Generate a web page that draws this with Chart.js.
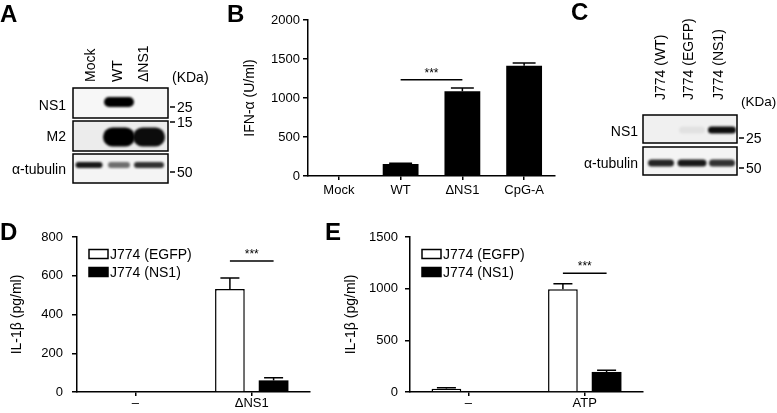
<!DOCTYPE html>
<html>
<head>
<meta charset="utf-8">
<script src="https://cdn.jsdelivr.net/npm/chart.js@4/dist/chart.umd.min.js"></script>
<style>
body { margin: 0; background: #fff; }
#wrap { position: relative; width: 777px; height: 413px; overflow: hidden; }
#wrap canvas { position: absolute; }
</style>
</head>
<body>
<div id="wrap">
  <canvas id="blots" width="777" height="413" style="left:0;top:0"></canvas>
  <canvas id="chartB" width="330" height="200" style="left:240px;top:0"></canvas>
  <canvas id="chartD" width="330" height="223" style="left:0;top:190px"></canvas>
  <canvas id="chartE" width="330" height="223" style="left:330px;top:190px"></canvas>
</div>
<script>
var FONT = "'Liberation Sans', Arial, sans-serif";

// panel B - IFN-alpha
var ifnLabels = ['Mock', 'WT', 'ΔNS1', 'CpG-A'];
var ifnMean = [0, 155, 1085, 1415];
var ifnErr = [0, 7, 43, 35];
var ifnTicks = [0, 500, 1000, 1500, 2000];

// panel D - IL-1b after dNS1 infection
var dLabels = ['–', 'ΔNS1'];
var dEgfp = [0, 531];
var dEgfpErr = [0, 57];
var dNs1 = [0, 60];
var dNs1Err = [0, 14];
var dTicks = [0, 200, 400, 600, 800];

// panel E - IL-1b after ATP
var eLabels = ['–', 'ATP'];
var eEgfp = [32, 994];
var eEgfpErr = [10, 54];
var eNs1 = [2, 194];
var eNs1Err = [0, 16];
var eTicks = [0, 500, 1000, 1500];

var seriesNames = ['J774 (EGFP)', 'J774 (NS1)'];

// western blots: band intensity per lane (0..1)
var aLanes = ['Mock', 'WT', 'ΔNS1'];
var aRows = ['NS1', 'M2', 'α-tubulin'];
var aBands = [[0, 1, 0], [0, 1, 0.95], [0.9, 0.55, 0.8]];
var cLanes = ['J774 (WT)', 'J774 (EGFP)', 'J774 (NS1)'];
var cRows = ['NS1', 'α-tubulin'];
var cBands = [[0, 0.06, 0.95], [0.85, 0.9, 0.8]];

// ---------- blots ----------
function band(ctx, cx, cy, w, h, a) {
    if (!a) return;
    ctx.save();
    ctx.filter = 'blur(1.3px)';
    ctx.fillStyle = 'rgba(0,0,0,' + a + ')';
    ctx.beginPath();
    ctx.roundRect(cx - w / 2, cy - h / 2, w, h, h / 2);
    ctx.fill();
    ctx.restore();
}

function blotBox(ctx, x, y, w, h, bg, lanesX, bandY, bandW, bandH, levels) {
    ctx.save();
    ctx.fillStyle = bg;
    ctx.fillRect(x, y, w, h);
    ctx.beginPath();
    ctx.rect(x, y, w, h);
    ctx.clip();
    for (var i = 0; i < lanesX.length; i++) {
        band(ctx, lanesX[i], bandY, bandW[i], bandH, levels[i]);
    }
    ctx.restore();
    ctx.strokeStyle = '#000';
    ctx.lineWidth = 1.5;
    ctx.strokeRect(x, y, w, h);
}

function marker(ctx, x, y, txt) {
    ctx.beginPath();
    ctx.moveTo(x + 2, y);
    ctx.lineTo(x + 7, y);
    ctx.stroke();
    ctx.textAlign = 'left';
    ctx.textBaseline = 'middle';
    ctx.fillText(txt, x + 9, y + 1);
}

function laneLabels(ctx, xs, bottom, labels) {
    for (var i = 0; i < xs.length; i++) {
        ctx.save();
        ctx.translate(xs[i], bottom);
        ctx.rotate(-Math.PI / 2);
        ctx.textAlign = 'left';
        ctx.textBaseline = 'middle';
        ctx.fillText(labels[i], 0, 0);
        ctx.restore();
    }
}

function rowLabel(ctx, x, y, txt) {
    ctx.textAlign = 'right';
    ctx.textBaseline = 'middle';
    ctx.fillText(txt, x, y);
}

function drawBlots() {
    var ctx = document.getElementById('blots').getContext('2d');
    ctx.fillStyle = '#000';
    ctx.strokeStyle = '#000';

    // panel letters
    ctx.font = 'bold 24px ' + FONT;
    ctx.textAlign = 'left';
    ctx.textBaseline = 'alphabetic';
    ctx.fillText('A', 0, 22);
    ctx.fillText('B', 227, 22);
    ctx.fillText('C', 571, 20);
    ctx.fillText('D', 0, 240);
    ctx.fillText('E', 325, 240);

    ctx.font = '14px ' + FONT;

    // panel A
    var ax = [89, 119, 149];
    laneLabels(ctx, [91, 118, 144], 82, aLanes);
    blotBox(ctx, 73, 88, 95, 30, '#f7f7f7', ax, 102, [24, 30, 30], 10, aBands[0]);
    blotBox(ctx, 73, 121, 95, 30, '#ececec', ax, 137, [32, 32, 32], 19, aBands[1]);
    blotBox(ctx, 73, 154, 95, 29, '#f4f4f4', ax, 165, [27, 22, 30], 6, aBands[2]);
    ctx.fillStyle = '#000';
    ctx.lineWidth = 1.5;
    rowLabel(ctx, 66, 106, aRows[0]);
    rowLabel(ctx, 66, 137, aRows[1]);
    rowLabel(ctx, 66, 170, aRows[2]);
    marker(ctx, 168, 107, '25');
    marker(ctx, 168, 122, '15');
    marker(ctx, 168, 172, '50');

    // panel C
    var cx = [661, 692, 722];
    laneLabels(ctx, [661, 689, 719], 100, cLanes);
    blotBox(ctx, 643, 115, 94, 28, '#f0f0f0', cx, 130, [26, 26, 28], 7, cBands[0]);
    blotBox(ctx, 643, 147, 94, 28, '#f4f4f4', cx, 163, [26, 29, 26], 7, cBands[1]);
    ctx.fillStyle = '#000';
    ctx.lineWidth = 1.5;
    rowLabel(ctx, 638, 132, cRows[0]);
    rowLabel(ctx, 638, 164, cRows[1]);
    marker(ctx, 737, 138, '25');
    marker(ctx, 737, 168, '50');

    ctx.textAlign = 'left';
    ctx.textBaseline = 'middle';
    ctx.fillText('(KDa)', 172, 78);
    ctx.font = '13.5px ' + FONT;
    ctx.fillText('(KDa)', 741, 102);
}

// ---------- chart plugins ----------
var errorBars = {
    id: 'errorBars',
    afterDatasetsDraw: function(chart) {
        var ctx = chart.ctx, y = chart.scales.y;
        chart.data.datasets.forEach(function(ds, i) {
            if (!ds.errors) return;
            chart.getDatasetMeta(i).data.forEach(function(bar, j) {
                var err = ds.errors[j];
                if (!err) return;
                var top = y.getPixelForValue(ds.data[j] + err);
                var half = bar.width * 0.32;
                ctx.save();
                ctx.strokeStyle = '#000';
                ctx.lineWidth = 1.5;
                ctx.beginPath();
                ctx.moveTo(bar.x, bar.y);
                ctx.lineTo(bar.x, top);
                ctx.moveTo(bar.x - half, top);
                ctx.lineTo(bar.x + half, top);
                ctx.stroke();
                ctx.restore();
            });
        });
    }
};

var sigLine = {
    id: 'sigLine',
    afterDatasetsDraw: function(chart, args, opts) {
        if (!opts || !opts.from) return;
        var ctx = chart.ctx;
        var a = chart.getDatasetMeta(opts.from[0]).data[opts.from[1]];
        var b = chart.getDatasetMeta(opts.to[0]).data[opts.to[1]];
        var yy = chart.scales.y.getPixelForValue(opts.value);
        ctx.save();
        ctx.strokeStyle = '#000';
        ctx.lineWidth = 1.5;
        ctx.beginPath();
        ctx.moveTo(a.x, yy);
        ctx.lineTo(b.x, yy);
        ctx.stroke();
        ctx.fillStyle = '#000';
        ctx.font = '12px ' + FONT;
        ctx.textAlign = 'center';
        ctx.textBaseline = 'alphabetic';
        ctx.fillText('***', (a.x + b.x) / 2, yy - 3);
        ctx.restore();
    }
};

var boxLegend = {
    id: 'boxLegend',
    afterDraw: function(chart, args, opts) {
        if (!opts || !opts.show) return;
        var ctx = chart.ctx, area = chart.chartArea;
        var x = area.left + 12, y = area.top + 17;
        ctx.save();
        ctx.font = '14px ' + FONT;
        ctx.textAlign = 'left';
        ctx.textBaseline = 'middle';
        chart.data.datasets.forEach(function(ds, i) {
            var yy = y + i * 18;
            ctx.fillStyle = ds.backgroundColor;
            ctx.fillRect(x, yy - 4.5, 19, 9);
            ctx.strokeStyle = '#000';
            ctx.lineWidth = 1.5;
            ctx.strokeRect(x, yy - 4.5, 19, 9);
            ctx.fillStyle = '#000';
            ctx.fillText(ds.label, x + 21, yy + 1);
        });
        ctx.restore();
    }
};

function barOptions(c) {
    return {
        responsive: false,
        animation: false,
        events: [],
        layout: { padding: { top: c.top, right: c.right, left: 0, bottom: 0 } },
        plugins: {
            legend: { display: false },
            tooltip: { enabled: false },
            sigLine: c.sig,
            boxLegend: { show: c.legend }
        },
        scales: {
            x: {
                grid: { display: true, drawOnChartArea: false, drawTicks: true, tickLength: 4, color: '#000', lineWidth: 1.5, offset: false },
                border: { display: true, color: '#000', width: 1.5 },
                ticks: { color: '#000', font: { family: FONT, size: 13 }, padding: c.xPad, maxRotation: 0, autoSkip: false },
                afterFit: function(s) { s.height = c.xh; }
            },
            y: {
                min: 0,
                max: c.ticks[c.ticks.length - 1],
                afterBuildTicks: function(s) { s.ticks = c.ticks.map(function(v) { return { value: v }; }); },
                grid: { drawOnChartArea: false, drawTicks: true, tickLength: 5, color: '#000', lineWidth: 1.5 },
                border: { display: true, color: '#000', width: 1.5 },
                ticks: { color: '#000', font: { family: FONT, size: 13 }, padding: c.yPad,
                    callback: function(v) { return String(v); } },
                title: { display: true, text: c.title, color: '#000', font: { family: FONT, size: 14 }, padding: { top: c.titlePad, bottom: 0 } },
                afterFit: function(s) { s.width = c.yw; }
            }
        }
    };
}

function pairData(labels, egfp, egfpErr, ns1, ns1Err) {
    return {
        labels: labels,
        datasets: [
            { label: seriesNames[0], data: egfp, errors: egfpErr, backgroundColor: '#fff', borderColor: '#000', borderWidth: 1.5, categoryPercentage: 0.75, barPercentage: 0.68 },
            { label: seriesNames[1], data: ns1, errors: ns1Err, backgroundColor: '#000', borderColor: '#000', borderWidth: 0, categoryPercentage: 0.75, barPercentage: 0.68 }
        ]
    };
}

drawBlots();

new Chart(document.getElementById('chartB'), {
    type: 'bar',
    data: {
        labels: ifnLabels,
        datasets: [{ label: 'IFN-α', data: ifnMean, errors: ifnErr, backgroundColor: '#000', borderWidth: 0, categoryPercentage: 1, barPercentage: 0.58 }]
    },
    options: barOptions({ top: 20, right: 15, xh: 24, yw: 68, ticks: ifnTicks, yPad: 3, xPad: 3,
        titlePad: 2, title: 'IFN-α (U/ml)', legend: false, sig: { from: [0, 1], to: [0, 2], value: 1235 } }),
    plugins: [errorBars, sigLine, boxLegend]
});

new Chart(document.getElementById('chartD'), {
    type: 'bar',
    data: pairData(dLabels, dEgfp, dEgfpErr, dNs1, dNs1Err),
    options: barOptions({ top: 47, right: 20, xh: 21, yw: 77, ticks: dTicks, yPad: 9, xPad: 0,
        titlePad: 9, title: 'IL-1β (pg/ml)', legend: true, sig: { from: [0, 1], to: [1, 1], value: 676 } }),
    plugins: [errorBars, sigLine, boxLegend]
});

new Chart(document.getElementById('chartE'), {
    type: 'bar',
    data: pairData(eLabels, eEgfp, eEgfpErr, eNs1, eNs1Err),
    options: barOptions({ top: 47, right: 17, xh: 21, yw: 80, ticks: eTicks, yPad: 7, xPad: 0,
        titlePad: 13, title: 'IL-1β (pg/ml)', legend: true, sig: { from: [0, 1], to: [1, 1], value: 1150 } }),
    plugins: [errorBars, sigLine, boxLegend]
});
</script>
</body>
</html>
